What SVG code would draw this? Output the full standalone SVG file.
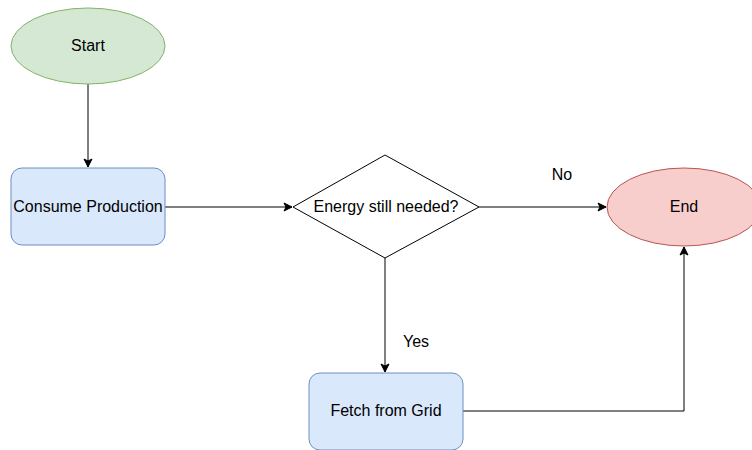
<svg xmlns="http://www.w3.org/2000/svg" width="752" height="450" viewBox="0 0 752 450">
  <style>
    .lbl { font-family: "Liberation Sans", Arial, sans-serif; font-size: 16px; fill: #000; text-anchor: middle; dominant-baseline: central; }
    .edge { fill: none; stroke: #000; stroke-width: 1; }
    .term-start { fill: #d5e8d4; stroke: #82b366; stroke-width: 1; }
    .term-end { fill: #f8cecc; stroke: #b85450; stroke-width: 1; }
    .proc { fill: #dae8fc; stroke: #6c8ebf; stroke-width: 1; }
    .dec { fill: #fff; stroke: #000; stroke-width: 1; }
  </style>
  <defs>
    <marker id="arrow" viewBox="0 0 10 10" refX="9" refY="5" markerWidth="10" markerHeight="10" markerUnits="userSpaceOnUse" orient="auto">
      <path d="M1,1 L9,5 L1,9 L3,5 Z" fill="#000" stroke="#000" stroke-width="1"/>
    </marker>
  </defs>
  <rect width="752" height="450" fill="#fff"/>

  <g id="connectors">
    <path class="edge" d="M88,84 L88,167" marker-end="url(#arrow)"/>
    <path class="edge" d="M165,207 L292,207" marker-end="url(#arrow)"/>
    <path class="edge" d="M479,207 L606,207" marker-end="url(#arrow)"/>
    <path class="edge" d="M385,258 L385,372" marker-end="url(#arrow)"/>
    <path class="edge" d="M463,411 L684,411 L684,247" marker-end="url(#arrow)"/>
    <text class="lbl" x="562" y="174">No</text>
    <text class="lbl" x="416" y="341">Yes</text>
  </g>

  <g id="start">
    <ellipse class="term-start" cx="88" cy="46" rx="77" ry="38"/>
    <text class="lbl" x="88" y="45">Start</text>
  </g>

  <g id="consume">
    <rect class="proc" x="11" y="168" width="154" height="77" rx="11" ry="11"/>
    <text class="lbl" x="88" y="206">Consume Production</text>
  </g>

  <g id="decision">
    <polygon class="dec" points="385,155 479,207 385,258 293,207"/>
    <text class="lbl" x="386" y="206">Energy still needed?</text>
  </g>

  <g id="end">
    <ellipse class="term-end" cx="684" cy="207" rx="77" ry="39"/>
    <text class="lbl" x="684" y="206">End</text>
  </g>

  <g id="fetch">
    <rect class="proc" x="309" y="373" width="154" height="77" rx="11" ry="11"/>
    <text class="lbl" x="386" y="410">Fetch from Grid</text>
  </g>
</svg>
